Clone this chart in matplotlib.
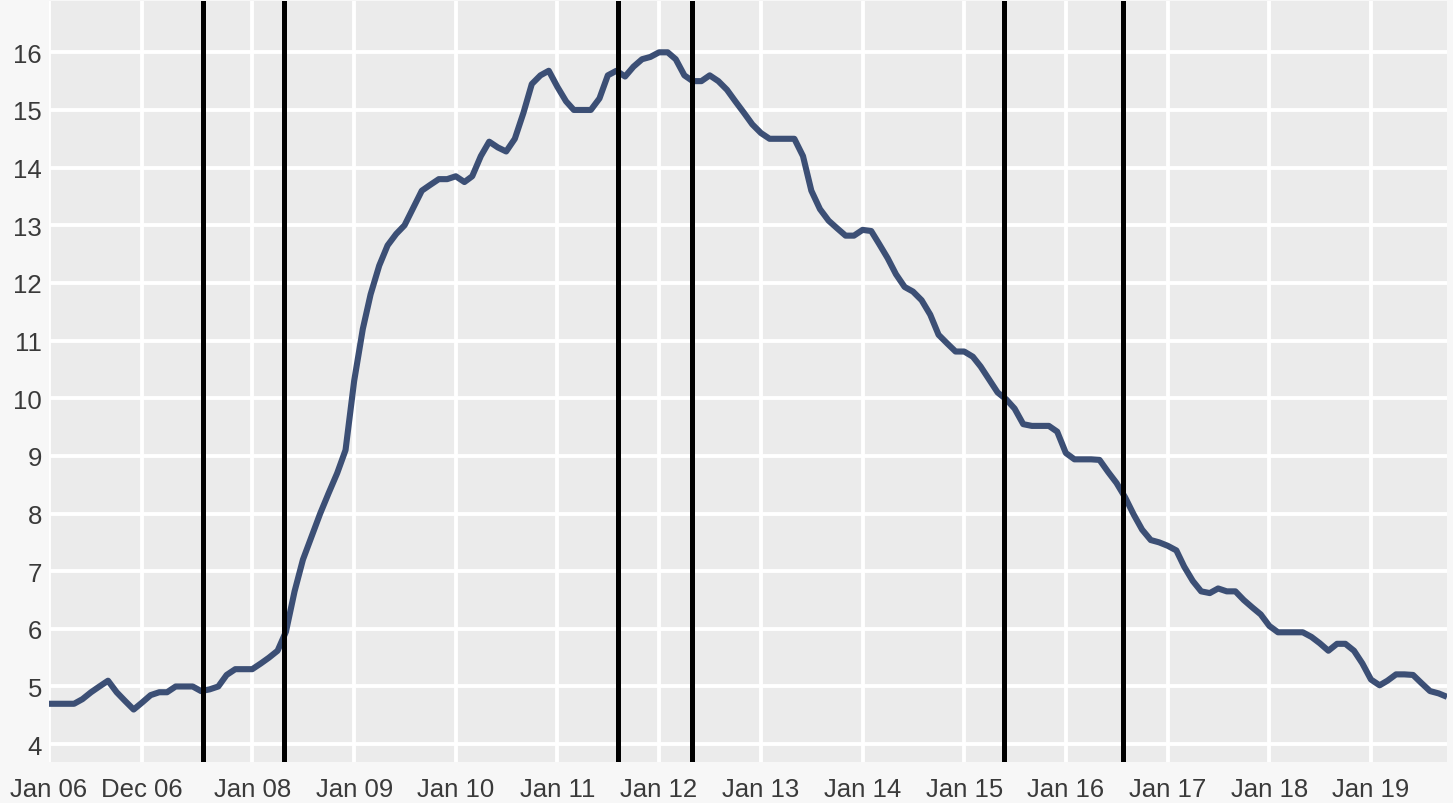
import matplotlib
matplotlib.use("Agg")
import matplotlib.pyplot as plt
import matplotlib.dates as mdates
import pandas as pd

# ---- data (monthly, Jan 2006 - Oct 2019) ----
v2006 = [4.7, 4.7, 4.7, 4.7, 4.78, 4.9, 5.0, 5.1, 4.9, 4.75, 4.6, 4.72]
v2007 = [4.85, 4.9, 4.9, 5.0, 5.0, 5.0, 4.92, 4.95, 5.0, 5.2, 5.3, 5.3]
v2008 = [5.3, 5.4, 5.5, 5.62, 5.95, 6.65, 7.2, 7.6, 8.0, 8.35, 8.7, 9.1]
v2009 = [10.3, 11.2, 11.8, 12.3, 12.65, 12.85, 13.0, 13.3, 13.6, 13.7, 13.8, 13.8]
v2010 = [13.85, 13.75, 13.85, 14.2, 14.45, 14.35, 14.28, 14.5, 14.95, 15.45, 15.6, 15.68]
v2011 = [15.4, 15.15, 15.0, 15.0, 15.0, 15.2, 15.6, 15.68, 15.58, 15.75, 15.88, 15.92]
v2012 = [16.0, 16.0, 15.88, 15.6, 15.5, 15.5, 15.6, 15.5, 15.35, 15.15, 14.95, 14.75]
v2013 = [14.6, 14.5, 14.5, 14.5, 14.5, 14.2, 13.6, 13.28, 13.08, 12.95, 12.82, 12.82]
v2014 = [12.92, 12.9, 12.68, 12.43, 12.15, 11.93, 11.85, 11.7, 11.45, 11.1, 10.95, 10.81]
v2015 = [10.81, 10.72, 10.55, 10.32, 10.1, 9.98, 9.82, 9.55, 9.52, 9.52, 9.52, 9.42]
v2016 = [9.05, 8.94, 8.94, 8.94, 8.93, 8.72, 8.53, 8.28, 7.98, 7.72, 7.54, 7.5]
v2017 = [7.44, 7.36, 7.08, 6.83, 6.65, 6.62, 6.70, 6.65, 6.65, 6.5, 6.37, 6.25]
v2018 = [6.05, 5.94, 5.94, 5.94, 5.94, 5.86, 5.75, 5.62, 5.74, 5.74, 5.62, 5.4]
v2019 = [5.12, 5.02, 5.1, 5.21, 5.21, 5.2, 5.06, 4.92, 4.88, 4.82]

values = (v2006 + v2007 + v2008 + v2009 + v2010 + v2011 + v2012 + v2013
          + v2014 + v2015 + v2016 + v2017 + v2018 + v2019)
dates = pd.date_range("2006-01-01", periods=len(values), freq="MS")

event_dates = ["2007-07-07", "2008-04-25", "2011-08-05",
               "2012-04-30", "2015-05-24", "2016-07-26"]

tick_dates = ["2006-01-01", "2006-12-01", "2008-01-01", "2009-01-01",
              "2010-01-01", "2011-01-01", "2012-01-01", "2013-01-01",
              "2014-01-01", "2015-01-01", "2016-01-01", "2017-01-01",
              "2018-01-01", "2019-01-01"]
tick_labels = ["Jan 06", "Dec 06", "Jan 08", "Jan 09", "Jan 10", "Jan 11",
               "Jan 12", "Jan 13", "Jan 14", "Jan 15", "Jan 16", "Jan 17",
               "Jan 18", "Jan 19"]
y_ticks = [4, 5, 6, 7, 8, 9, 10, 11, 12, 13, 14, 15, 16]

# ---- figure ----
plt.rcParams["font.family"] = ["Liberation Sans", "DejaVu Sans"]
fig = plt.figure(figsize=(14.53, 8.04), dpi=100, facecolor="#F7F7F7")
ax = fig.add_axes([49 / 1453, 1 - 763 / 804, (1447 - 49) / 1453, (763 - 2) / 804])
ax.set_facecolor("#EBEBEB")

ax.set_axisbelow(True)
ax.grid(True, color="white", linewidth=2.8)

ax.plot(dates, values, color="#3C4F75", linewidth=4.4, solid_joinstyle="round",
        solid_capstyle="butt", zorder=3)

for d in event_dates:
    ax.axvline(pd.Timestamp(d), color="black", linewidth=3.6, zorder=4)

ax.set_xlim(pd.Timestamp("2006-01-01"), pd.Timestamp("2019-10-01"))
ax.set_ylim(3.69, 16.89)

ax.set_xticks([pd.Timestamp(t) for t in tick_dates])
ax.set_xticklabels(tick_labels)
ax.set_yticks(y_ticks)
ax.set_yticklabels([str(t) for t in y_ticks])

ax.tick_params(axis="both", length=0, labelsize=18.5, labelcolor="#3A3A3A")
ax.tick_params(axis="x", pad=11)
ax.tick_params(axis="y", pad=5)

for s in ax.spines.values():
    s.set_visible(False)

fig.savefig("out.png", dpi=100, facecolor=fig.get_facecolor())
